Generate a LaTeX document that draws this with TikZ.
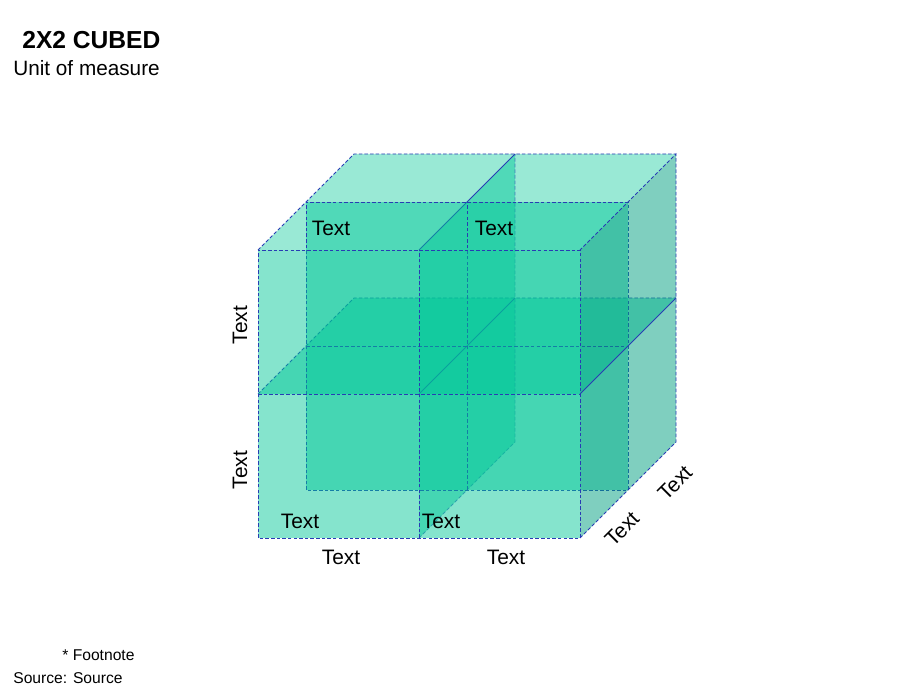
\documentclass[tikz,border=0pt]{standalone}
\usepackage{fontspec}
\setmainfont{Liberation Sans}
\usepackage{xcolor}
\usetikzlibrary{math, calc}
\definecolor{cubeteal}{RGB}{0,199,151}
\definecolor{sideteal}{RGB}{0,160,128}
\definecolor{edgeblue}{RGB}{40,60,180}

\tikzset{
  plane/.style={fill=cubeteal, fill opacity=0.48},
  topplane/.style={fill=cubeteal, fill opacity=0.40},
  sideplane/.style={fill=sideteal, fill opacity=0.50},
  edge/.style={draw=edgeblue, line width=0.5pt, dash pattern=on 2pt off 1.2pt},
  solidedge/.style={draw=edgeblue, line width=0.5pt},
  lbl/.style={font=\fontsize{11.9pt}{14pt}\selectfont, inner sep=0pt}
}

\begin{document}
\begin{tikzpicture}
\tikzmath{
\W=6.44;
\H=5.76;
\D=1.92;
\Dm=\D/2;
\Wh=\W/2;
\Hh=\H/2;
}
\useasboundingbox (-5.16,-3.04) rectangle (13.24,10.76);

%The corners:
\coordinate (F1) at (0,0);
\coordinate (F2) at (\W,0);
\coordinate (F3) at (\W,\H);
\coordinate (F4) at (0,\H);
\coordinate (B1) at ($(F1)+(\D,\D)$);
\coordinate (B2) at ($(F2)+(\D,\D)$);
\coordinate (B3) at ($(F3)+(\D,\D)$);
\coordinate (B4) at ($(F4)+(\D,\D)$);

%Top and middle horizontal planes:
\fill[topplane] (F4) -- (F3) -- (B3) -- (B4) -- cycle;
\draw[edge] (F4) -- (B4) -- (B3);
\fill[plane] (0,\Hh) -- (\W,\Hh) -- ++(\D,\D) -- (\D,\Hh+\D) -- cycle;
\draw[edge] (0,\Hh) -- (\D,\Hh+\D) -- (\W+\D,\Hh+\D);

%Vertical split plane:
\fill[plane] (\Wh,0) -- (\Wh,\H) -- ++(\D,\D) -- (\Wh+\D,\D) -- cycle;
\draw[edge, draw opacity=0.6] (\Wh,0) -- (\Wh+\D,\D) -- (\Wh+\D,\H+\D);
\draw[solidedge] (\Wh,\H) -- (\Wh+\D,\H+\D);
\draw[solidedge] (\Wh,\Hh) -- (\Wh+\D,\Hh+\D);

%Middle depth plane:
\fill[plane] (\Dm,\Dm) rectangle (\W+\Dm,\H+\Dm);
\draw[edge] (\Dm,\Dm) rectangle (\W+\Dm,\H+\Dm);
\draw[edge] (\Wh+\Dm,\Dm) -- (\Wh+\Dm,\H+\Dm);
\draw[edge] (\Dm,\Hh+\Dm) -- (\W+\Dm,\Hh+\Dm);

%Right side:
\fill[sideplane] (F2) -- (F3) -- (B3) -- (B2) -- cycle;
\draw[edge] (F2) -- (B2) -- (B3) -- (F3);
\draw[solidedge] (\W,\Hh) -- (\W+\D,\Hh+\D);

%Front face:
\fill[plane] (F1) rectangle (F3);
\draw[edge] (F1) rectangle (F3);
\draw[edge] (\Wh,0) -- (\Wh,\H);
\draw[edge] (0,\Hh) -- (\W,\Hh);

%Labels:
\node[lbl] (t1) at (1.46,6.2) {Text};
\node[lbl] (t2) at (4.72,6.2) {Text};
\node[lbl] (t3) at (0.84,0.34) {Text};
\node[lbl] (t4) at (3.66,0.34) {Text};
\node[lbl] (b1) at (1.66,-0.38) {Text};
\node[lbl] (b2) at (4.96,-0.38) {Text};
\node[lbl, rotate=90] (l1) at (-0.36,4.26) {Text};
\node[lbl, rotate=90] (l2) at (-0.36,1.36) {Text};
\node[lbl, rotate=45] (d1) at (7.28,0.18) {Text};
\node[lbl, rotate=45] (d2) at (8.34,1.1) {Text};

\node[anchor=west, inner sep=0pt, font=\fontsize{14pt}{16pt}\selectfont\bfseries] (title) at (-4.72,9.96) {2X2 CUBED};
\node[anchor=west, inner sep=0pt, font=\fontsize{11.8pt}{14pt}\selectfont] (unit) at (-4.9,9.4) {Unit of measure};
\node[anchor=west, inner sep=0pt, font=\fontsize{8.9pt}{10pt}\selectfont] (foot) at (-3.92,-2.34) {* Footnote};
\node[anchor=west, inner sep=0pt, font=\fontsize{8.9pt}{10pt}\selectfont] (src) at (-4.9,-2.8) {Source: Source};
\end{tikzpicture}
\end{document}
